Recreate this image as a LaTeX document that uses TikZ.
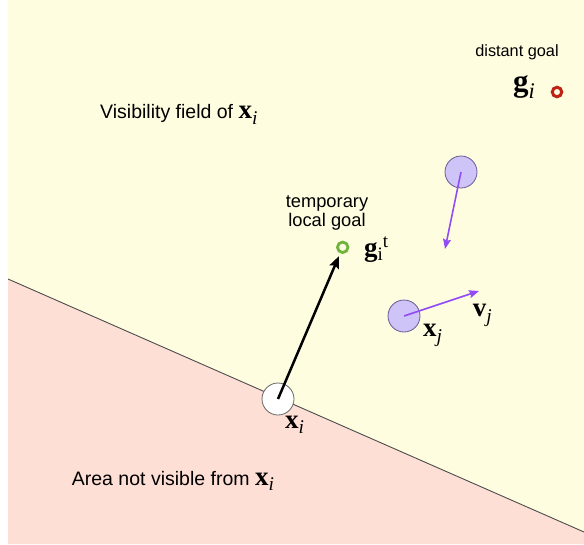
\documentclass[tikz,border=0pt]{standalone}
\usepackage{fontspec}
\setsansfont{Liberation Sans}
\newfontfamily\symf{Liberation Serif}
\usepackage{xcolor}
\usepackage{tikz}
\usetikzlibrary{arrows.meta}

\definecolor{visyel}{RGB}{255,253,224}
\definecolor{hidpink}{RGB}{253,223,213}
\definecolor{agentlil}{RGB}{206,196,248}
\definecolor{agentrim}{RGB}{105,90,150}
\definecolor{velpur}{RGB}{146,76,246}
\definecolor{goalred}{RGB}{190,35,20}
\definecolor{goalgrn}{RGB}{112,180,62}

% bold symbol with italic index
\newcommand{\bsym}[3][27]{{\symf\fontsize{#1}{#1}\selectfont\textbf{#2}\raisebox{-0.22em}{\fontsize{0.72\dimexpr#1pt\relax}{1em}\selectfont\textit{#3}}}}

\begin{document}
\begin{tikzpicture}[x=1pt,y=-1pt,
  txt/.style={font=\sffamily\fontsize{19.5}{22}\selectfont,inner sep=0pt,anchor=base west},
  sml/.style={font=\sffamily\fontsize{18.3}{19.5}\selectfont,inner sep=0pt,align=center},
  sym/.style={inner sep=0pt,anchor=base west},
  agt/.style={circle,draw=agentrim,fill=agentlil,line width=0.8pt,minimum size=32pt,inner sep=0pt},
  gl/.style={circle,line width=3pt,minimum size=9.5pt,inner sep=0pt},
  mov/.style={-{Stealth[length=12pt,width=10pt,inset=2pt]},line width=2.5pt,shorten >=3pt},
  vel/.style={-{Stealth[length=10pt,width=8pt,inset=1.5pt]},line width=1.6pt,velpur}]

  \useasboundingbox (0,0) rectangle (584,544);
  \coordinate (bl) at (8,279);
  \coordinate (br) at (584,532);
  \fill[visyel] (8,0) -- (584,0) -- (br) -- (bl) -- cycle;
  \fill[hidpink] (bl) -- (br) -- (584,544) -- (8,544) -- cycle;
  \draw[black!70,line width=0.9pt] (bl) -- (br);

  % labels of the two regions
  \node[txt] (vis) at (100,118.3) {Visibility field of\ \bsym{x}{i}};
  \node[txt] (hid) at (71.7,485) {Area not visible from\ \bsym{x}{i}};

  % goals
  \node[font=\sffamily\fontsize{16.3}{18}\selectfont,inner sep=0pt] (dgt) at (517,52) {distant goal};
  \node[gl,draw=goalred] (dg) at (557,92) {};
  \node[sym] (dgl) at (513,91.7) {\bsym[31]{g}{i}};
  \node[sml] (lgt) at (327,213) {temporary\\local goal};
  \node[gl,draw=goalgrn,minimum size=10.5pt,line width=2.8pt] (lg) at (342.7,247.3) {};
  \node[sym] (lgl) at (364,256) {{\symf\fontsize{27}{27}\selectfont\textbf{g}\raisebox{-0.18em}{\fontsize{19}{19}\selectfont i}\raisebox{0.3em}{\fontsize{19}{19}\selectfont t}}};

  % agents
  \node[agt,draw=black!60,fill=white] (xi) at (278,399) {};
  \node[sym] (xil) at (285,428) {\bsym{x}{i}};
  \node[agt] (xj) at (404,316) {};
  \node[sym] (xjl) at (423,336.7) {\bsym{x}{j}};
  \node[agt] (xk) at (461,172) {};
  \node[sym] (vjl) at (472.7,316.7) {\bsym{v}{j}};

  \coordinate (vj) at (479,291);
  \coordinate (vk) at (445,249);
  \draw[mov] (xi.center) -- (lg);
  \draw[vel] (xj.center) -- (vj);
  \draw[vel] (xk.center) -- (vk);
\end{tikzpicture}
\end{document}
